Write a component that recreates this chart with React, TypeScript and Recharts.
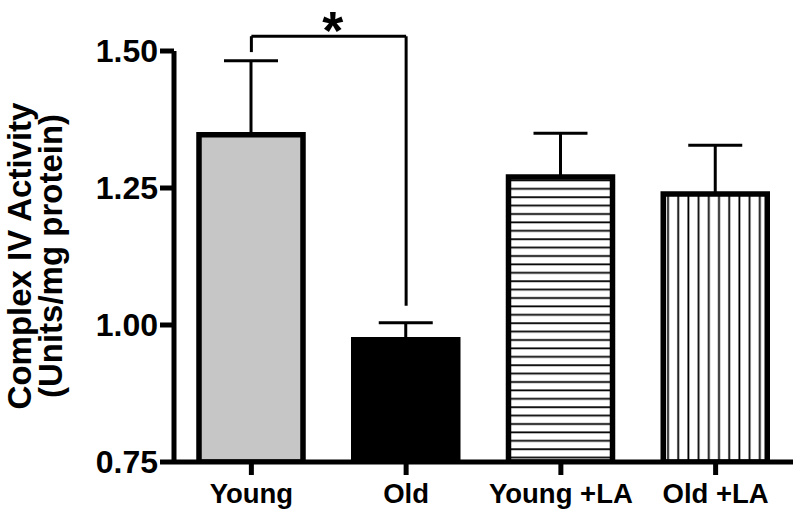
import { Bar, BarChart, Cell, ErrorBar, ReferenceLine, XAxis, YAxis } from 'recharts'

const categories = ['Young', 'Old', 'Young +LA', 'Old +LA']
const means = [1.347, 0.973, 1.27, 1.239]
const sems = [0.135, 0.031, 0.08, 0.089]
const yTicks = [0.75, 1.0, 1.25, 1.5]
const sigLabel = '*'
const sigPair = ['Young', 'Old']
const sigLevels = { top: 1.527, leftEnd: 1.498, rightEnd: 1.035 }

const FONT = '"Liberation Sans", Arial, Helvetica, sans-serif'
const barFills = ['#c6c6c6', '#000000', 'url(#hstripes)', 'url(#vstripes)']

const data = categories.map((name, i) => ({ name, mean: means[i], err: [0, sems[i]] }))

function YTitle() {
  return (
    <text
      transform="translate(0,256) rotate(-90)"
      textAnchor="middle"
      fontFamily={FONT}
      fontWeight="bold"
      fontSize={33}
      fill="#000"
    >
      <tspan x={0} y={31}>Complex IV Activity</tspan>
      <tspan x={0} y={62}>(Units/mg protein)</tspan>
    </text>
  )
}

function Star({ viewBox }: { viewBox?: { x: number; y: number; width: number } }) {
  if (!viewBox) return null
  return (
    <text
      x={viewBox.x + viewBox.width / 2 + 4}
      y={viewBox.y + 13}
      textAnchor="middle"
      fontFamily={FONT}
      fontWeight="bold"
      fontSize={54}
      fill="#000"
    >
      {sigLabel}
    </text>
  )
}

export default function App() {
  const [a, b] = sigPair
  return (
    <div style={{ position: 'absolute', left: 0, top: 0, background: '#fff' }}>
      <BarChart
        width={800}
        height={512}
        data={data}
        margin={{ top: 51, right: 7, bottom: 0, left: 0 }}
        barCategoryGap={0}
      >
        <defs>
          <pattern id="hstripes" patternUnits="userSpaceOnUse" width={10} height={8.4}>
            <rect width={10} height={8.4} fill="#fff" />
            <line x1={0} x2={10} y1={4} y2={4} stroke="#000" strokeWidth={1.8} />
          </pattern>
          <pattern id="vstripes" patternUnits="userSpaceOnUse" width={10.2} height={10}>
            <rect width={10.2} height={10} fill="#fff" />
            <line x1={5} x2={5} y1={0} y2={10} stroke="#000" strokeWidth={1.8} />
          </pattern>
        </defs>
        <XAxis
          dataKey="name"
          height={50}
          axisLine={{ stroke: '#000', strokeWidth: 5 }}
          tickLine={{ stroke: '#000', strokeWidth: 5 }}
          tickSize={13}
          tickMargin={8}
          tick={{ fill: '#000', fontSize: 27.5, fontWeight: 'bold', fontFamily: FONT }}
        />
        <YAxis
          width={174}
          domain={[0.75, 1.5]}
          ticks={yTicks}
          allowDataOverflow
          tickFormatter={(v: number) => v.toFixed(2)}
          axisLine={{ stroke: '#000', strokeWidth: 5 }}
          tickLine={{ stroke: '#000', strokeWidth: 5 }}
          tickSize={14}
          tickMargin={2}
          tick={{ fill: '#000', fontSize: 32, fontWeight: 'bold', fontFamily: FONT }}
          label={<YTitle />}
        />
        <Bar dataKey="mean" barSize={104} stroke="#000" strokeWidth={5.5} isAnimationActive={false}>
          {data.map((d, i) => (
            <Cell key={d.name} fill={barFills[i]} />
          ))}
          <ErrorBar
            dataKey="err"
            direction="y"
            width={27}
            stroke="#000"
            strokeWidth={3}
            isAnimationActive={false}
          />
        </Bar>
        <ReferenceLine
          ifOverflow="visible"
          stroke="#000"
          strokeWidth={3}
          segment={[
            { x: a, y: sigLevels.leftEnd },
            { x: a, y: sigLevels.top },
          ]}
        />
        <ReferenceLine
          ifOverflow="visible"
          stroke="#000"
          strokeWidth={3}
          segment={[
            { x: a, y: sigLevels.top },
            { x: b, y: sigLevels.top },
          ]}
          label={<Star />}
        />
        <ReferenceLine
          ifOverflow="visible"
          stroke="#000"
          strokeWidth={3}
          segment={[
            { x: b, y: sigLevels.top },
            { x: b, y: sigLevels.rightEnd },
          ]}
        />
      </BarChart>
    </div>
  )
}
